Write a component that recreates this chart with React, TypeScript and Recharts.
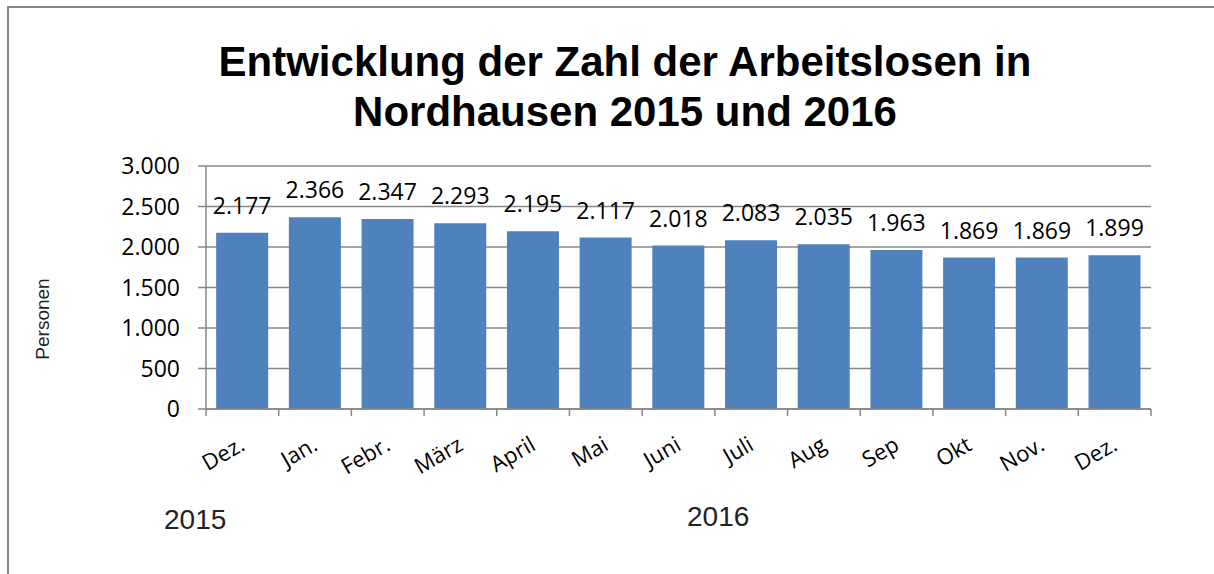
import { Bar, BarChart, CartesianGrid, LabelList, XAxis, YAxis } from 'recharts'

const months = ['Dez.', 'Jan.', 'Febr.', 'März', 'April', 'Mai', 'Juni', 'Juli', 'Aug', 'Sep', 'Okt', 'Nov.', 'Dez.']
const arbeitslose = [2177, 2366, 2347, 2293, 2195, 2117, 2018, 2083, 2035, 1963, 1869, 1869, 1899]
const yTicks = [0, 500, 1000, 1500, 2000, 2500, 3000]

const data = months.map((month, i) => ({ month, value: arbeitslose[i] }))

const W = 1214
const H = 574
const PLOT_LEFT = 206
const PLOT_RIGHT = 1151
const STEP = (PLOT_RIGHT - PLOT_LEFT) / months.length
const GRID = '#878787'
const NUM_FONT = '"Open Sans", sans-serif'

const fmt = (v: number) => String(v).replace(/\B(?=(\d{3})+(?!\d))/g, '.')

function MonthTick({ x, y, payload, index }: any) {
  const left = x - STEP / 2
  const tx = x + 4
  const ty = y + 40
  return (
    <g>
      <line x1={left} y1={y} x2={left} y2={y + 7} stroke={GRID} strokeWidth={1.5} />
      {index === months.length - 1 && (
        <line x1={x + STEP / 2} y1={y} x2={x + STEP / 2} y2={y + 7} stroke={GRID} strokeWidth={1.5} />
      )}
      <text
        x={tx}
        y={ty}
        textAnchor="end"
        transform={`rotate(-30, ${tx}, ${ty})`}
        fontFamily={NUM_FONT}
        fontSize={22}
        fill="#000"
      >
        {payload.value}
      </text>
    </g>
  )
}

export default function App() {
  return (
    <div style={{ position: 'absolute', left: 0, top: 0, width: W, height: H, background: '#fff', overflow: 'hidden' }}>
      {/* frame */}
      <div style={{ position: 'absolute', left: 7, top: 6, width: W, height: H, borderLeft: `2px solid ${GRID}`, borderTop: `2px solid ${GRID}` }} />

      <div
        style={{
          position: 'absolute',
          left: 625,
          top: 37,
          transform: 'translateX(-50%)',
          whiteSpace: 'nowrap',
          textAlign: 'center',
          fontFamily: '"Liberation Sans", Arial, sans-serif',
          fontWeight: 700,
          fontSize: 42,
          lineHeight: '50px',
          color: '#000',
        }}
      >
        Entwicklung der Zahl der Arbeitslosen in
        <br />
        Nordhausen 2015 und 2016
      </div>

      <BarChart
        width={W}
        height={H}
        data={data}
        margin={{ top: 166, right: W - PLOT_RIGHT, left: PLOT_LEFT - 100, bottom: 105 }}
        barCategoryGap="14%"
        style={{ position: 'absolute', left: 0, top: 0 }}
      >
        <CartesianGrid vertical={false} stroke={GRID} strokeWidth={1.5} />
        <XAxis
          dataKey="month"
          height={60}
          interval={0}
          tickLine={false}
          tickSize={0}
          tickMargin={0}
          axisLine={{ stroke: GRID, strokeWidth: 1.5 }}
          tick={<MonthTick />}
        />
        <YAxis
          width={100}
          domain={[0, 3000]}
          ticks={yTicks}
          tickFormatter={fmt}
          tickSize={8}
          tickMargin={18}
          tickLine={{ stroke: GRID, strokeWidth: 1.5 }}
          axisLine={{ stroke: GRID, strokeWidth: 1.5 }}
          tick={{ fontFamily: NUM_FONT, fontSize: 23, fill: '#000' }}
        />
        <Bar dataKey="value" fill="#4F81BD" isAnimationActive={false}>
          <LabelList
            dataKey="value"
            position="top"
            offset={19}
            formatter={(v: any) => fmt(Number(v))}
            style={{ fontFamily: NUM_FONT, fontSize: 23, fill: '#000' }}
          />
        </Bar>
      </BarChart>

      <div
        style={{
          position: 'absolute',
          left: 43,
          top: 319,
          transform: 'translate(-50%, -50%) rotate(-90deg)',
          fontFamily: '"Liberation Sans", Arial, sans-serif',
          fontSize: 19,
          color: '#222',
          whiteSpace: 'nowrap',
        }}
      >
        Personen
      </div>
      <div style={{ position: 'absolute', left: 164, top: 504, fontFamily: '"Liberation Sans", Arial, sans-serif', fontSize: 28, lineHeight: '32px', color: '#222' }}>
        2015
      </div>
      <div style={{ position: 'absolute', left: 687, top: 501, fontFamily: '"Liberation Sans", Arial, sans-serif', fontSize: 28, lineHeight: '32px', color: '#222' }}>
        2016
      </div>
    </div>
  )
}
